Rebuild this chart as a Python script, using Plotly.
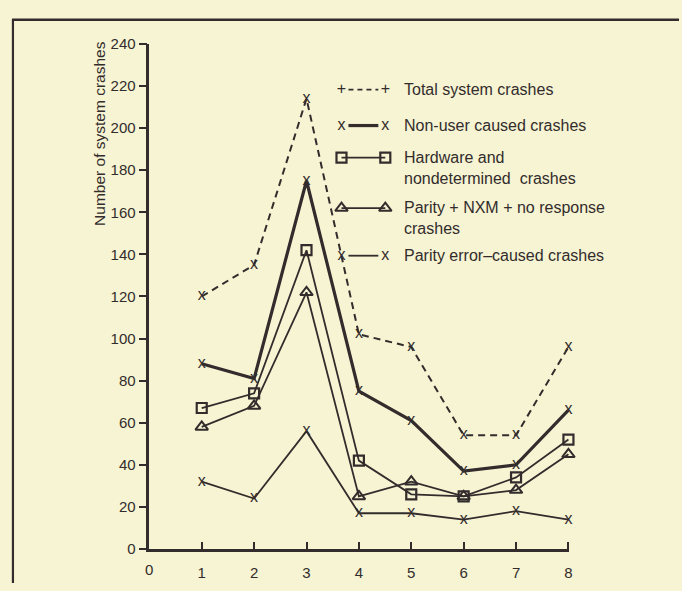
import plotly.graph_objects as go

# Monthly crash counts by category
periods = [1, 2, 3, 4, 5, 6, 7, 8]
total_crashes = [120, 135, 214, 102, 96, 54, 54, 96]
non_user_crashes = [88, 81, 175, 75, 61, 37, 40, 66]
hardware_crashes = [67, 74, 142, 42, 26, 25, 34, 52]
parity_nxm_crashes = [58, 68, 122, 25, 32, 25, 28, 45]
parity_error_crashes = [32, 24, 56, 17, 17, 14, 18, 14]

x_ticks = [0, 1, 2, 3, 4, 5, 6, 7, 8]
y_ticks = [0, 20, 40, 60, 80, 100, 120, 140, 160, 180, 200, 220, 240]

legend_labels = [
    "Total system crashes",
    "Non-user caused crashes",
    "Hardware and<br>nondetermined  crashes",
    "Parity + NXM + no response<br>crashes",
    "Parity error\u2013caused crashes",
]

INK = "#332c2c"
PAPER = "#f6f4d3"
FONT = "Liberation Sans"
FS = 16
TICK_FS = 15
W, H = 682, 591


def px(x):
    return x / W


def py(y):
    return 1 - y / H


fig = go.Figure()


def xmark_trace(y, width, dash, name):
    return go.Scatter(
        x=periods, y=y, mode="lines+text", name=name,
        text=["x"] * len(periods), textposition="middle center",
        textfont=dict(family=FONT, size=FS, color=INK),
        line=dict(color=INK, width=width, dash=dash),
        showlegend=False, cliponaxis=False,
    )


fig.add_trace(xmark_trace(total_crashes, 2, "7px,5px", legend_labels[0]))
fig.add_trace(xmark_trace(non_user_crashes, 3.2, "solid", legend_labels[1]))
fig.add_trace(go.Scatter(
    x=periods, y=hardware_crashes, mode="lines+markers", name="hardware",
    line=dict(color=INK, width=1.8),
    marker=dict(symbol="square-open", size=10, color=INK, line=dict(width=2.2, color=INK)),
    showlegend=False, cliponaxis=False,
))
fig.add_trace(go.Scatter(
    x=periods, y=parity_nxm_crashes, mode="lines+markers", name="parity_nxm",
    line=dict(color=INK, width=1.8),
    marker=dict(symbol="triangle-up-open", size=11, color=INK, line=dict(width=2, color=INK)),
    showlegend=False, cliponaxis=False,
))
fig.add_trace(xmark_trace(parity_error_crashes, 1.8, "solid", legend_labels[4]))

# Key drawn on a full-page pixel-space axis pair
key_rows = [83, 120, 153, 205, 254]
key_x0, key_x1 = 343, 387
key_styles = [
    dict(width=1.6, dash="5px,4px"),
    dict(width=3.2, dash="solid"),
    dict(width=1.8, dash="solid"),
    dict(width=1.8, dash="solid"),
    dict(width=1.8, dash="solid"),
]
for i, yy in enumerate(key_rows):
    st = key_styles[i]
    if i in (2, 3):
        sym = "square-open" if i == 2 else "triangle-up-open"
        fig.add_trace(go.Scatter(
            x=[key_x0, key_x1], y=[yy, yy], xaxis="x2", yaxis="y2", mode="lines+markers",
            line=dict(color=INK, width=st["width"]),
            marker=dict(symbol=sym, size=10 if i == 2 else 11, color=INK,
                        line=dict(width=2.2 if i == 2 else 2, color=INK)),
            showlegend=False, hoverinfo="skip",
        ))
    else:
        glyph = "+" if i == 0 else "x"
        fig.add_trace(go.Scatter(
            x=[key_x0 + 7, key_x1 - 7], y=[yy, yy], xaxis="x2", yaxis="y2", mode="lines",
            line=dict(color=INK, width=st["width"], dash=st["dash"]),
            showlegend=False, hoverinfo="skip",
        ))
        fig.add_trace(go.Scatter(
            x=[key_x0, key_x1], y=[yy, yy], xaxis="x2", yaxis="y2", mode="text",
            text=[glyph, glyph], textposition="middle center",
            textfont=dict(family=FONT, size=FS, color=INK),
            showlegend=False, hoverinfo="skip",
        ))
    two_line = "<br>" in legend_labels[i]
    fig.add_annotation(
        x=px(404), y=py(yy - 11 if two_line else yy), xref="paper", yref="paper",
        text=legend_labels[i], showarrow=False, xanchor="left",
        yanchor="top" if two_line else "middle",
        align="left", font=dict(family=FONT, size=FS, color=INK),
    )

# Y axis title
fig.add_annotation(
    x=px(100), y=py(128), xref="paper", yref="paper", text="Number of system crashes",
    textangle=-90, showarrow=False, xanchor="center", yanchor="middle",
    font=dict(family=FONT, size=15.5, color=INK),
)

# Page frame lines
fig.add_shape(type="line", xref="paper", yref="paper", x0=px(12), x1=1, y0=py(11), y1=py(11),
              line=dict(color=INK, width=2.5))
fig.add_shape(type="line", xref="paper", yref="paper", x0=px(13), x1=px(13), y0=py(11), y1=0,
              line=dict(color=INK, width=2.2))

fig.update_layout(
    width=W, height=H,
    margin=dict(l=0, r=0, t=0, b=0),
    paper_bgcolor=PAPER, plot_bgcolor="rgba(0,0,0,0)",
    font=dict(family=FONT, size=FS, color=INK),
    xaxis=dict(
        domain=[150 / W, 572 / W], range=[0, 8.02],
        tickvals=x_ticks[1:], ticktext=[str(v) for v in x_ticks[1:]],
        ticks="inside", ticklen=7, tickwidth=2, tickcolor=INK,
        showline=True, linecolor=INK, linewidth=2.5,
        showgrid=False, zeroline=False, ticklabelstandoff=8,
        tickfont=dict(family=FONT, size=TICK_FS, color=INK),
    ),
    yaxis=dict(
        domain=[1 - 556 / H, 1 - 36 / H], range=[0, 240],
        tickvals=y_ticks, ticks="outside", ticklen=8, tickwidth=2, tickcolor=INK,
        showline=True, linecolor=INK, linewidth=2.5,
        showgrid=False, zeroline=False,
        tickfont=dict(family=FONT, size=TICK_FS, color=INK),
    ),
    xaxis2=dict(domain=[0, 1], range=[0, W], visible=False, anchor="y2"),
    yaxis2=dict(domain=[0, 1], range=[H, 0], visible=False, anchor="x2"),
)

# The "0" label at the x-axis origin
fig.add_annotation(x=0, y=0, xref="x", yref="y", text=str(x_ticks[0]), showarrow=False,
                   yanchor="top", yshift=-10, font=dict(family=FONT, size=TICK_FS, color=INK))

fig.write_html("out.html")
